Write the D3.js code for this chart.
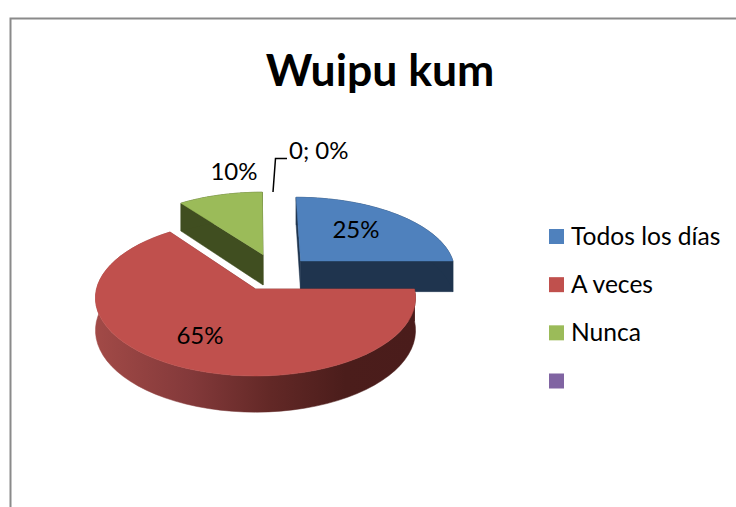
<!DOCTYPE html>
<html><head><meta charset="utf-8">
<script src="https://cdnjs.cloudflare.com/ajax/libs/d3/7.8.5/d3.min.js"></script>
<style>html,body{margin:0;padding:0;background:#fff}svg{display:block}text{font-family:Lato,sans-serif;fill:#000}</style>
</head><body><svg id="c" width="736" height="507"></svg>
<script>
const categories = ["Todos los días", "A veces", "Nunca", ""];
const values = [25, 65, 10, 0];
const pieLabels = ["25%", "65%", "10%", "0; 0%"];
const topColors = ["#4f81bd", "#c0504d", "#9bbb59", "#8064a2"];
const sideColors = ["#1f344e", "url(#redWall)", "#404e20", "#40315a"];
const explode = [[0.296, 0.38], [0, 0], [0.05, 0.47], [0, 0]];
const labelPos = [[356, 230], [200, 336], [234, 172]];
const drawOrder = [0, 2, 1];

const svg = d3.select("#c");
const CX = 255.5, CY = 289, R = 159, A = 77, P = 0.115, D = 32;

// gradient on the red wall
const grad = svg.append("defs").append("linearGradient").attr("id", "redWall")
  .attr("gradientUnits", "userSpaceOnUse").attr("x1", 95).attr("x2", 416).attr("y1", 0).attr("y2", 0);
[[0, "#a24a47"], [0.3, "#83393a"], [0.55, "#622826"], [0.78, "#4b1d1b"], [1, "#4a1c1b"]]
  .forEach(([o, c]) => grad.append("stop").attr("offset", o).attr("stop-color", c));

// frame
svg.append("path").attr("d", "M10.5,507V18.5H736").attr("fill", "none").attr("stroke", "#8a8a8a").attr("stroke-width", 2);

// title
svg.append("text").attr("x", 380).attr("y", 86).attr("text-anchor", "middle")
  .attr("font-size", 44.5).attr("font-weight", 700).text("Wuipu kum");

const pie = d3.pie().sort(null).value(d => d)(values);

// perspective projection of disc coordinates
const project = (wx, wy, drop) => {
  const k = 1 / (1 + P * wy);
  return [CX + R * wx * k, CY - A * wy * k + (drop ? D * k : 0)];
};
const line = d3.line();
const ring = (s, e, ox, oy, drop) => d3.range(0, 61).map(i => {
  const a = s + (e - s) * i / 60;
  return project(ox + Math.sin(a), oy + Math.cos(a), drop);
});

drawOrder.forEach(i => {
  const p = pie[i], [ox, oy] = explode[i];
  const s = p.startAngle, e = p.endAngle;
  const g = svg.append("g");
  const wall = (a, b) => g.append("path")
    .attr("d", line([...a, ...b.slice().reverse()]) + "Z")
    .attr("fill", sideColors[i]).attr("stroke", sideColors[i]).attr("stroke-width", 0.5);
  const apexT = project(ox, oy, false), apexB = project(ox, oy, true);
  // cut faces
  [s, e].forEach(a => {
    const t = project(ox + Math.sin(a), oy + Math.cos(a), false);
    const b = project(ox + Math.sin(a), oy + Math.cos(a), true);
    wall([apexT, t], [apexB, b]);
  });
  // outer wall
  wall(ring(s, e, ox, oy, false), ring(s, e, ox, oy, true));
  // top surface
  g.append("path").attr("d", line([apexT, ...ring(s, e, ox, oy, false)]) + "Z")
    .attr("fill", topColors[i]).attr("stroke", topColors[i]).attr("stroke-width", 0.5);
});

// data labels
labelPos.forEach((q, i) => svg.append("text").attr("x", q[0]).attr("y", q[1]).attr("dy", "0.35em")
  .attr("text-anchor", "middle").attr("font-size", 24).text(pieLabels[i]));
svg.append("text").attr("x", 289).attr("y", 151).attr("dy", "0.35em").attr("font-size", 24).text(pieLabels[3]);
svg.append("path").attr("d", "M273,192L275.5,158.5H287").attr("fill", "none").attr("stroke", "#000").attr("stroke-width", 1.5);

// legend
const ly = d3.scalePoint().domain(d3.range(categories.length)).range([236.5, 381]);
categories.forEach((c, i) => {
  svg.append("rect").attr("x", 549).attr("y", ly(i) - 7.5).attr("width", 15).attr("height", 15).attr("fill", topColors[i]);
  svg.append("text").attr("x", 571).attr("y", ly(i) - 0.5).attr("dy", "0.35em").attr("font-size", 24.6).text(c);
});
</script></body></html>
